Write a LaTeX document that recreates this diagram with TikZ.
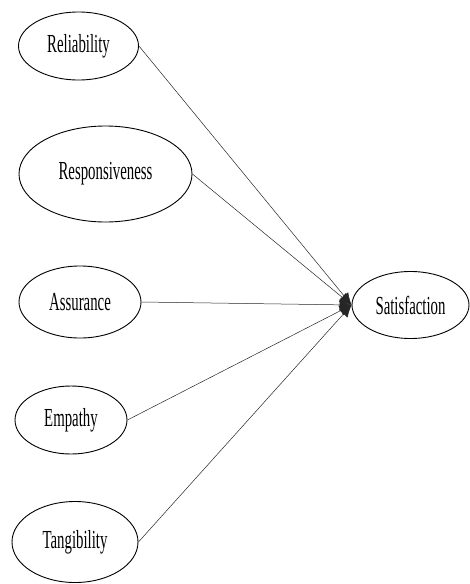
\documentclass[tikz,border=0pt]{standalone}
\usepackage{fontspec}
\setmainfont[FakeStretch=0.57]{Liberation Serif}
\usetikzlibrary{arrows.meta,shapes.geometric}
\tikzset{
  construct/.style={draw, ellipse, line width=0.9pt, inner sep=0pt, font=\fontsize{26}{29}\selectfont},
  path/.style={line width=0.5pt, color=black!85, -{Latex[length=12pt,width=11pt]}}
}

\begin{document}
\begin{tikzpicture}[x=1pt, y=-1pt]
		%%%%% START %%%%%
		\useasboundingbox (0, 0) rectangle (470, 584);
		
		\node[construct, minimum width=120, minimum height=68] (rel) at (78.5, 46) {Reliability};
		\node[construct, minimum width=173, minimum height=96] (resp) at (105.5, 174) {Responsiveness};
		\node[construct, minimum width=122, minimum height=72] (ass) at (80, 302) {Assurance};
		\node[construct, minimum width=112, minimum height=68] (emp) at (71, 420) {Empathy};
		\node[construct, minimum width=126, minimum height=81] (tan) at (75, 542) {Tangibility};
		
		\node[construct, minimum width=117, minimum height=67] (sat) at (410.5, 305) {Satisfaction};
		
		\draw[path] (rel.east) -- (sat.west);
		\draw[path] (resp.east) -- (sat.west);
		\draw[path] (ass.east) -- (sat.west);
		\draw[path] (emp.east) -- (sat.west);
		\draw[path] (tan.east) -- (sat.west);
		
		%%%%% END %%%%%
	\end{tikzpicture}
\end{document}
